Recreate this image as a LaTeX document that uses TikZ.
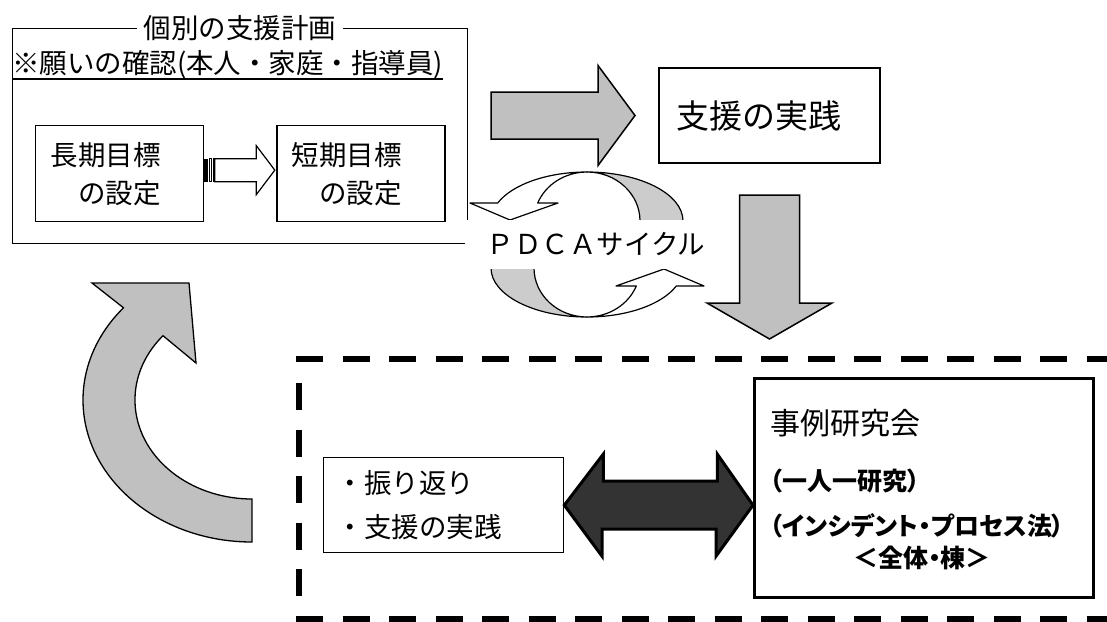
\documentclass[tikz,border=0pt]{standalone}
\usepackage{fontspec}
\setmainfont{Noto Sans CJK JP}
\usetikzlibrary{positioning,calc}
\definecolor{arrgray}{HTML}{C0C0C0}
\definecolor{cyclegray}{HTML}{CCCCCC}
\definecolor{arrdark}{HTML}{333333}
\tikzset{txt/.style={font=\fontsize{27.5}{38}\selectfont}}
\tikzset{pbox/.style={draw, line width=1.3pt, inner xsep=0pt, align=left, txt}}
\tikzset{blockarr/.style={draw, line width=1.5pt, fill=arrgray, line join=miter}}
\tikzset{cycarr/.style={draw, line width=1.2pt, line join=round}}
\tikzset{dashframe/.style={line width=6pt, dash pattern=on 27pt off 19.5pt}}
\tikzset{casenote/.style={anchor=base west, inner sep=0pt, font=\fontsize{25}{30}\selectfont\bfseries\addfontfeatures{RawFeature=+palt}}}

\begin{document}
\begin{tikzpicture}[x=1pt, y=-1pt]
\useasboundingbox (0,0) rectangle (1107,621);
% individual plan
\node[draw, line width=1.3pt, minimum width=455pt, minimum height=215pt, anchor=north west, inner sep=0pt] (plan) at (12,28) {};
\node[txt, fill=white, inner xsep=7pt, inner ysep=2pt] (plantitle) at (plan.north) {個別の支援計画};
\node[txt, inner sep=0pt, anchor=base west] (wish) at (12,73.5) {※願いの確認(本人・家庭・指導員)};
\draw[line width=1.3pt] ([yshift=-5.5pt]wish.base west) -- ([yshift=-5.5pt]wish.base east);
%
\node[pbox, minimum width=168pt, minimum height=96pt, text width=138pt, inner xsep=15pt, anchor=north west] (longgoal) at (35,125) {長期目標\\　の設定};
\node[pbox, minimum width=168pt, minimum height=96pt, text width=138pt, inner xsep=15pt, right=72pt of longgoal] (shortgoal) {短期目標\\　の設定};
% striped arrow
\coordinate (sa) at ($(longgoal.east)+(0,-3.5)$);
\fill ($(sa)+(0,-11.5)$) rectangle ++(3.5,23);
\draw[line width=0.8pt] ($(sa)+(5.2,-11.5)$) rectangle ++(2,23);
\draw[line width=0.8pt] ($(sa)+(8.7,-11.5)$) rectangle ++(1.3,23);
\draw[line width=1.2pt, fill=white] ($(sa)+(10.5,-11.5)$) -- ++(41.5,0) -- ++(0,-13) -- ($(shortgoal.west |- sa)+(-1.5,0)$)
	-- ($(sa)+(52,24.5)$) -- ++(0,-13) -- ($(sa)+(10.5,11.5)$) -- cycle;
% practice
\node[pbox, line width=2pt, minimum width=221pt, minimum height=95pt, text width=187pt, inner xsep=17pt, anchor=north west, font=\fontsize{33}{40}\selectfont] (practice) at (658,67) {支援の実践};
\coordinate (rtip) at ($(practice.west)+(-23,0)$);
\draw[blockarr] ($(rtip)+(-144,-23.5)$) -- ++(107,0) -- ++(0,-26.5) -- (rtip) -- ++(-37,50) -- ++(0,-26.5) -- ++(-107,0) -- cycle;
\coordinate (dtop) at ($(practice.south)+(0,31)$);
\draw[blockarr] ($(dtop)+(-30,0)$) -- ++(0,108) -- ++(-32.5,0) -- ++(62.5,36) -- ++(62.5,-36) -- ++(-32.5,0) -- ++(0,-108) -- cycle;
% PDCA cycle
\foreach \turn in {0,180}{
	\begin{scope}[rotate around={\turn:(587,244.5)}]
		\draw[cycarr, fill=cyclegray] (683,221) arc[start angle=0, end angle=-90, x radius=96, y radius=49]
			arc[start angle=-90, end angle=0, x radius=53, y radius=49] -- cycle;
		\draw[cycarr, fill=white] (587,172) arc[start angle=-90, end angle=-158.4, x radius=96, y radius=49]
			-- (470,203) -- (510,220) -- (558,203) -- (537.7,203)
			arc[start angle=-158.4, end angle=-90, x radius=53, y radius=49] -- cycle;
	\end{scope}
}
\node[txt, fill=white, minimum width=262pt, minimum height=49pt, inner sep=0pt] (pdca) at (596,244) {ＰＤＣＡサイクル};
% case study frame
\draw[dashframe] (296,359) -- (1110,359);
\draw[dashframe] (299,383) -- (299,622);
\draw[dashframe] (296,619) -- (1110,619);
\node[pbox, minimum width=240pt, minimum height=95pt, text width=214pt, inner xsep=13pt, anchor=north west, font=\fontsize{27.5}{44}\selectfont] (reflect) at (323,457) {・振り返り\\・支援の実践};
\node[draw, line width=2.7pt, minimum width=339pt, minimum height=219pt, anchor=north west, inner sep=0pt] (case) at (753,377) {};
\node[anchor=base west, inner sep=0pt, font=\fontsize{30}{36}\selectfont] (casetitle) at ($(case.north west)+(17,57)$) {事例研究会};
\node[casenote] (solo) at ($(case.north west)+(17,113)$) {（一人一研究）};
\node[casenote] (incident) at ($(case.north west)+(17,158)$) {（インシデント・プロセス法）};
\node[casenote, anchor=base] (whole) at ($(case.north west)+(169,190.5)$) {＜全体・棟＞};
\draw[line width=3pt, fill=arrdark, line join=miter] (reflect.east) -- ++(39,-51) -- ++(0,27) -- ++(114,0) -- ++(0,-27)
	-- (case.west |- reflect.east) -- ++(-37,51) -- ++(0,-27) -- ++(-114,0) -- ++(0,27) -- cycle;
% back to the plan
\draw[blockarr, line width=1.3pt] (252,542) arc[start angle=90, end angle=220.5, x radius=169, y radius=142]
	-- (92,283) -- (189,283) -- (196,363) -- (163,335.7)
	arc[start angle=220.5, end angle=90, x radius=117, y radius=99] -- cycle;
\end{tikzpicture}
\end{document}
